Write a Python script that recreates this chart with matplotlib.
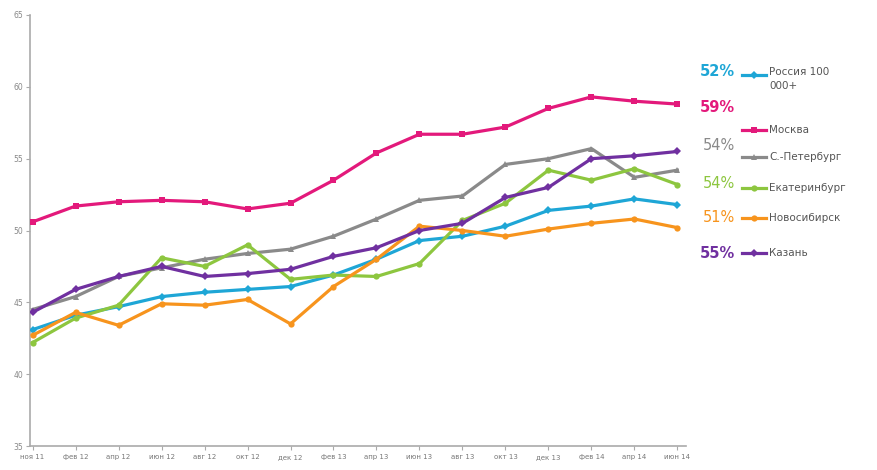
import matplotlib.pyplot as plt
from matplotlib.lines import Line2D

# периоды опроса (подписи по оси X)
periods = ["ноя 11", "фев 12", "апр 12", "июн 12", "авг 12", "окт 12", "дек 12", "фев 13",
           "апр 13", "июн 13", "авг 13", "окт 13", "дек 13", "фев 14", "апр 14", "июн 14"]

russia = [43.1, 44.1, 44.7, 45.4, 45.7, 45.9, 46.1, 46.9, 48.0, 49.3, 49.6, 50.3, 51.4, 51.7, 52.2, 51.8]
moscow = [50.6, 51.7, 52.0, 52.1, 52.0, 51.5, 51.9, 53.5, 55.4, 56.7, 56.7, 57.2, 58.5, 59.3, 59.0, 58.8]
spb = [44.5, 45.4, 46.8, 47.4, 48.0, 48.4, 48.7, 49.6, 50.8, 52.1, 52.4, 54.6, 55.0, 55.7, 53.7, 54.2]
ekb = [42.2, 43.9, 44.8, 48.1, 47.5, 49.0, 46.6, 46.9, 46.8, 47.7, 50.7, 51.9, 54.2, 53.5, 54.3, 53.2]
nsk = [42.7, 44.3, 43.4, 44.9, 44.8, 45.2, 43.5, 46.1, 48.0, 50.3, 50.0, 49.6, 50.1, 50.5, 50.8, 50.2]
kazan = [44.3, 45.9, 46.8, 47.5, 46.8, 47.0, 47.3, 48.2, 48.8, 50.0, 50.5, 52.3, 53.0, 55.0, 55.2, 55.5]

names = ["Россия 100\n000+", "Москва", "С.-Петербург", "Екатеринбург", "Новосибирск", "Казань"]
last_pct = ["52%", "59%", "54%", "54%", "51%", "55%"]
series = [russia, moscow, spb, ekb, nsk, kazan]

colors = ["#1ea6d6", "#e3197b", "#8a8a8a", "#8dc63f", "#f7941d", "#7030a0"]
markers = ["D", "s", "^", "o", "o", "D"]

fig = plt.figure(figsize=(8.78, 4.70), dpi=100)
ax = fig.add_axes([30 / 878, 1 - 446 / 470, (686 - 30) / 878, (446 - 15) / 470])

x = list(range(len(periods)))
# Москва рисуется поверх остальных
for i in [0, 2, 3, 4, 5, 1]:
    ax.plot(x, series[i], color=colors[i], lw=2.3, marker=markers[i], ms=4.5,
            markeredgewidth=0, zorder=4 if i == 1 else 3)

ax.set_xlim(-0.06, 15.2)
ax.set_ylim(35, 65)
ax.set_yticks(range(35, 66, 5))
ax.set_xticks(x)
ax.set_xticklabels(periods, fontsize=5, color="#777777")
ax.tick_params(axis="y", labelsize=5.5, colors="#aaaaaa", labelcolor="#888888",
               length=3, width=0.8, pad=2)
ax.tick_params(axis="x", length=3, width=0.8, colors="#aaaaaa", labelcolor="#777777", pad=3)
for s in ["top", "right"]:
    ax.spines[s].set_visible(False)
for s in ["left", "bottom"]:
    ax.spines[s].set_color("#aaaaaa")
    ax.spines[s].set_linewidth(1.2)

# процентные подписи и легенда справа
pct_y = [72, 108, 146, 183, 218, 253]
leg_y = [75, 130, 157, 188, 218, 253]
for i in range(len(names)):
    fig.text(735 / 878, 1 - pct_y[i] / 470, last_pct[i], color=colors[i], fontsize=10.5,
             ha="right", va="center", fontweight="bold" if i in (0, 1, 5) else "normal")
    yy = 1 - leg_y[i] / 470
    fig.add_artist(Line2D([742 / 878, 754 / 878, 766 / 878], [yy, yy, yy], color=colors[i],
                          lw=2.3, marker=markers[i], ms=4.5, markevery=[1], markeredgewidth=0))
    if i == 0:
        fig.text(769 / 878, 1 - 67 / 470, names[i], fontsize=7.5, color="#555555",
                 va="top", ha="left", linespacing=1.5)
    else:
        fig.text(769 / 878, yy, names[i], fontsize=7.5, color="#555555",
                 va="center", ha="left")

fig.savefig("out.png", dpi=100)
